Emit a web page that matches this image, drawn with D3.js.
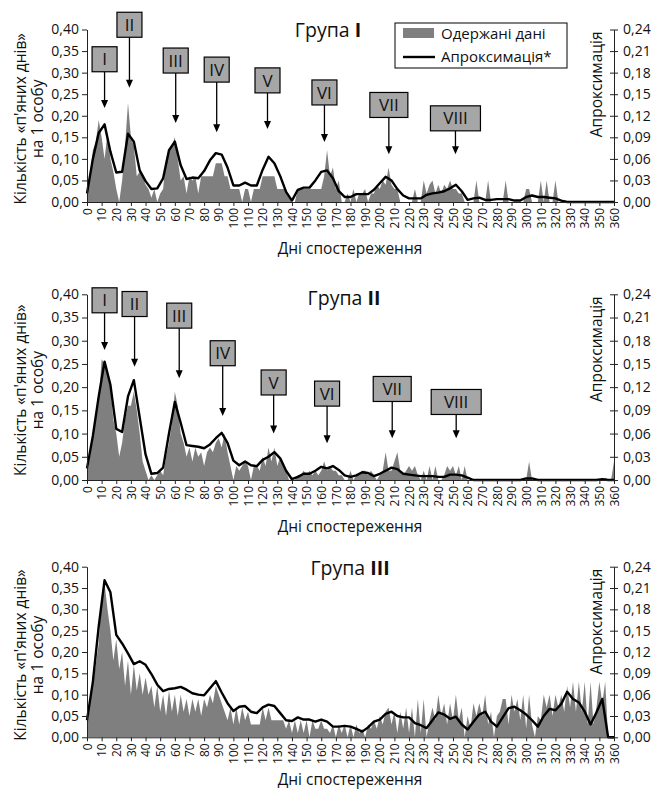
<!DOCTYPE html>
<html>
<head>
<meta charset="utf-8">
<script src="https://cdn.jsdelivr.net/npm/d3@7"></script>
<style>
  body { margin: 0; background: #fff; }
  text { font-family: "Open Sans", "Noto Sans", sans-serif; fill: #111; }
</style>
</head>
<body>
<div class="chart"></div>
<script>
// days of observation
var greyDays = d3.range(0, 361, 2);
var lineDays = d3.range(0, 361, 4);
var xTicks = d3.range(0, 361, 10);
var leftTicks = [0, 0.05, 0.10, 0.15, 0.20, 0.25, 0.30, 0.35, 0.40];
var rightTicks = [0, 0.03, 0.06, 0.09, 0.12, 0.15, 0.18, 0.21, 0.24];

// Група I: observed data (left axis), every 2 days
var grey1 = [
  0.02,0.06,0.12,0.14,0.19,0.15,0.10,0.16,0.10,0.07,
  0.03,0.00,0.05,0.13,0.23,0.15,0.13,0.06,0.07,0.06,
  0.04,0.03,0.01,0.03,0.00,0.02,0.03,0.10,0.12,0.13,
  0.15,0.10,0.05,0.06,0.02,0.06,0.05,0.06,0.02,0.06,
  0.06,0.06,0.06,0.06,0.09,0.09,0.09,0.06,0.06,0.03,
  0.03,0.03,0.03,0.00,0.03,0.03,0.00,0.03,0.03,0.03,
  0.06,0.06,0.06,0.06,0.06,0.03,0.03,0.03,0.03,0.01,
  0.00,0.00,0.03,0.03,0.03,0.03,0.03,0.03,0.03,0.03,
  0.03,0.06,0.12,0.06,0.08,0.03,0.05,0.00,0.00,0.02,
  0.00,0.03,0.00,0.02,0.02,0.03,0.00,0.02,0.02,0.04,
  0.03,0.05,0.04,0.08,0.04,0.03,0.03,0.00,0.00,0.00,
  0.00,0.00,0.03,0.00,0.00,0.05,0.02,0.04,0.05,0.02,
  0.04,0.02,0.04,0.03,0.05,0.03,0.03,0.02,0.02,0.00,
  0.00,0.00,0.00,0.05,0.00,0.00,0.00,0.05,0.00,0.00,
  0.00,0.00,0.00,0.05,0.00,0.00,0.00,0.00,0.00,0.00,
  0.03,0.03,0.00,0.00,0.00,0.05,0.00,0.05,0.00,0.00,
  0.05,0.00,0.00,0.00,0.00,0.00,0.00,0.00,0.00,0.00,
  0.00,0.00,0.00,0.00,0.00,0.00,0.00,0.00,0.00,0.00,
  0.00
];
// Група I: approximation (right axis), every 4 days
var line1 = [
  0.012,0.060,0.096,0.108,0.070,0.041,0.042,0.095,0.084,0.044,
  0.029,0.018,0.019,0.033,0.072,0.084,0.051,0.032,0.034,0.033,
  0.043,0.058,0.068,0.066,0.048,0.023,0.023,0.027,0.023,0.023,
  0.045,0.063,0.054,0.036,0.014,0.002,0.017,0.020,0.020,0.030,
  0.042,0.044,0.033,0.015,0.007,0.007,0.011,0.011,0.011,0.017,
  0.026,0.035,0.030,0.018,0.009,0.005,0.005,0.005,0.010,0.012,
  0.013,0.015,0.019,0.024,0.015,0.003,0.005,0.006,0.003,0.003,
  0.004,0.004,0.004,0.002,0.002,0.007,0.009,0.007,0.007,0.006,
  0.005,0.002,0.000,0.000,0.000,0.000,0.000,0.000,0.000,0.000,
  0.000
];

// Група II
var grey2 = [
  0.01,0.05,0.10,0.13,0.17,0.26,0.25,0.23,0.20,0.13,
  0.10,0.05,0.08,0.13,0.16,0.16,0.19,0.15,0.10,0.04,
  0.02,0.00,0.01,0.00,0.01,0.02,0.01,0.05,0.08,0.12,
  0.19,0.16,0.10,0.08,0.05,0.07,0.04,0.07,0.05,0.06,
  0.03,0.06,0.07,0.06,0.08,0.09,0.07,0.10,0.06,0.03,
  0.00,0.03,0.02,0.03,0.04,0.03,0.00,0.03,0.03,0.02,
  0.05,0.03,0.07,0.04,0.07,0.03,0.05,0.03,0.02,0.00,
  0.00,0.00,0.01,0.01,0.02,0.01,0.02,0.01,0.02,0.01,
  0.02,0.04,0.02,0.03,0.02,0.02,0.01,0.01,0.00,0.00,
  0.02,0.00,0.01,0.01,0.02,0.02,0.01,0.02,0.01,0.00,
  0.01,0.02,0.06,0.02,0.02,0.04,0.06,0.02,0.01,0.02,
  0.03,0.02,0.03,0.01,0.00,0.02,0.00,0.03,0.00,0.03,
  0.00,0.00,0.01,0.03,0.02,0.03,0.01,0.03,0.00,0.03,
  0.00,0.00,0.00,0.00,0.00,0.00,0.00,0.00,0.00,0.00,
  0.00,0.00,0.00,0.00,0.00,0.00,0.00,0.00,0.00,0.00,
  0.00,0.04,0.00,0.00,0.00,0.00,0.00,0.00,0.00,0.00,
  0.00,0.00,0.00,0.00,0.00,0.00,0.00,0.00,0.00,0.00,
  0.00,0.00,0.00,0.00,0.00,0.00,0.00,0.005,0.00,0.00,
  0.04
];
var line2 = [
  0.015,0.057,0.108,0.153,0.123,0.066,0.062,0.108,0.129,0.081,
  0.033,0.008,0.009,0.016,0.060,0.101,0.074,0.045,0.044,0.043,
  0.041,0.046,0.054,0.061,0.048,0.025,0.019,0.024,0.019,0.018,
  0.026,0.030,0.036,0.028,0.012,0.001,0.004,0.008,0.008,0.012,
  0.017,0.015,0.018,0.013,0.006,0.004,0.006,0.010,0.009,0.005,
  0.008,0.012,0.016,0.014,0.008,0.007,0.006,0.005,0.005,0.005,
  0.004,0.004,0.007,0.007,0.006,0.003,0.000,0.000,0.000,0.000,
  0.000,0.000,0.000,0.000,0.000,0.002,0.002,0.000,0.000,0.000,
  0.000,0.000,0.000,0.000,0.000,0.000,0.000,0.000,0.001,0.000,
  0.000
];

// Група III
var grey3 = [
  0.02,0.08,0.12,0.17,0.22,0.33,0.36,0.30,0.25,0.18,
  0.23,0.16,0.20,0.12,0.18,0.10,0.17,0.11,0.15,0.10,
  0.14,0.10,0.12,0.07,0.12,0.06,0.10,0.05,0.11,0.06,
  0.10,0.05,0.10,0.06,0.09,0.05,0.09,0.06,0.09,0.05,
  0.09,0.07,0.10,0.08,0.12,0.10,0.08,0.06,0.04,0.07,
  0.03,0.07,0.03,0.07,0.04,0.06,0.03,0.03,0.03,0.03,
  0.07,0.04,0.07,0.04,0.04,0.04,0.04,0.04,0.02,0.04,
  0.01,0.04,0.01,0.04,0.01,0.04,0.00,0.04,0.02,0.02,
  0.04,0.02,0.02,0.01,0.03,0.00,0.03,0.01,0.03,0.00,
  0.03,0.00,0.03,0.01,0.02,0.00,0.03,0.02,0.04,0.02,
  0.05,0.03,0.06,0.07,0.03,0.06,0.01,0.06,0.02,0.07,
  0.01,0.07,0.00,0.09,0.01,0.09,0.00,0.04,0.07,0.04,
  0.10,0.05,0.08,0.03,0.08,0.04,0.10,0.04,0.07,0.00,
  0.05,0.02,0.08,0.05,0.08,0.05,0.10,0.03,0.06,0.00,
  0.05,0.06,0.09,0.09,0.03,0.10,0.06,0.09,0.04,0.10,
  0.02,0.10,0.03,0.00,0.05,0.04,0.10,0.07,0.10,0.05,
  0.10,0.07,0.10,0.06,0.12,0.07,0.13,0.06,0.13,0.06,
  0.13,0.03,0.13,0.03,0.07,0.13,0.08,0.13,0.00,0.00,
  0.00
];
var line3 = [
  0.024,0.078,0.156,0.221,0.204,0.144,0.132,0.118,0.103,0.107,
  0.102,0.089,0.074,0.065,0.068,0.069,0.071,0.067,0.062,0.060,
  0.059,0.069,0.079,0.063,0.048,0.037,0.043,0.044,0.036,0.034,
  0.042,0.046,0.044,0.034,0.024,0.023,0.028,0.025,0.025,0.022,
  0.025,0.022,0.015,0.015,0.016,0.015,0.012,0.008,0.014,0.022,
  0.025,0.033,0.036,0.030,0.028,0.028,0.020,0.017,0.013,0.024,
  0.035,0.032,0.026,0.029,0.018,0.011,0.022,0.032,0.036,0.022,
  0.015,0.028,0.041,0.043,0.038,0.032,0.024,0.015,0.030,0.040,
  0.038,0.047,0.064,0.054,0.049,0.036,0.018,0.035,0.054,0.000,
  0.000
];

// callouts: label, day, arrow tip value and box top value (left axis)
var calloutLabels = ['I', 'II', 'III', 'IV', 'V', 'VI', 'VII', 'VIII'];
var calloutDays1 = [12, 29, 60.6, 88.6, 123.3, 162.2, 206.2, 251.7];
var calloutTip1 = [0.218, 0.265, 0.183, 0.162, 0.169, 0.139, 0.111, 0.111];
var calloutBox1 = [0.36, 0.44, 0.357, 0.336, 0.311, 0.283, 0.254, 0.223];
var calloutDays2 = [12, 32.5, 63, 92.7, 127.5, 164, 208.5, 252.2];
var calloutTip2 = [0.28, 0.244, 0.219, 0.138, 0.10, 0.079, 0.09, 0.09];
var calloutBox2 = [0.414, 0.406, 0.381, 0.30, 0.237, 0.213, 0.223, 0.195];

var panels = [
  { title: 'Група ', num: 'I', grey: grey1, line: line1, top: 29.5, bottom: 202, tx: 328, ty: 37, xt: 52,
    callouts: { days: calloutDays1, tip: calloutTip1, box: calloutBox1 }, legend: true },
  { title: 'Група ', num: 'II', grey: grey2, line: line2, top: 294.3, bottom: 480, tx: 344, ty: 305, xt: 52,
    callouts: { days: calloutDays2, tip: calloutTip2, box: calloutBox2 } },
  { title: 'Група ', num: 'III', grey: grey3, line: line3, top: 566.7, bottom: 737.3, tx: 350, ty: 575, xt: 48 }
];

var W = 657, H = 790;
var svg = d3.select('.chart').append('svg').attr('width', W).attr('height', H);

var x = d3.scaleLinear().domain([0, 360]).range([87, 614]);
var comma = function (f) { return function (d) { return d3.format(f)(d).replace('.', ','); }; };
var boxW = { VII: 38, VIII: 50 };

panels.forEach(function (p) {
  var yL = d3.scaleLinear().domain([0, 0.40]).range([p.bottom, p.top]);
  var yR = d3.scaleLinear().domain([0, 0.24]).range([p.bottom, p.top]);
  var g = svg.append('g');

  // observed data
  var area = d3.area()
    .x(function (d, i) { return x(greyDays[i]); })
    .y0(p.bottom)
    .y1(function (d) { return yL(d); });
  g.append('path').datum(p.grey).attr('d', area).attr('fill', '#7f7f7f');

  // approximation
  var line = d3.line()
    .x(function (d, i) { return x(lineDays[i]); })
    .y(function (d) { return yR(d); });
  g.append('path').datum(p.line).attr('d', line)
    .attr('fill', 'none').attr('stroke', '#000').attr('stroke-width', 2.4)
    .attr('stroke-linejoin', 'round');

  // axes
  var la = g.append('g').attr('transform', 'translate(87,0)')
    .call(d3.axisLeft(yL).tickValues(leftTicks).tickFormat(comma('.2f')).tickSize(5).tickSizeOuter(0));
  la.selectAll('text').style('font-size', '14px').attr('x', -8);

  var ra = g.append('g').attr('transform', 'translate(614,0)')
    .call(d3.axisRight(yR).tickValues(rightTicks).tickFormat(comma('.2f')).tickSize(4).tickSizeOuter(0));
  ra.selectAll('.tick line').attr('x1', -4).attr('x2', 4);
  ra.selectAll('text').style('font-size', '14px').attr('x', 9);

  var ba = g.append('g').attr('transform', 'translate(0,' + p.bottom + ')')
    .call(d3.axisBottom(x).tickValues(xTicks).tickSize(4).tickSizeOuter(0));
  ba.selectAll('text').style('font-size', '12px')
    .attr('transform', 'rotate(-90)').attr('text-anchor', 'end')
    .attr('x', -6).attr('y', 0).attr('dy', '0.35em');
  svg.selectAll('.domain, .tick line').attr('stroke', '#222');

  // axis titles
  var mid = (p.top + p.bottom) / 2 + 3;
  g.append('text').attr('transform', 'translate(21,' + mid + ') rotate(-90)')
    .attr('text-anchor', 'middle').attr('dy', '0.35em').style('font-size', '15.5px')
    .text('Кількість  «п\'яних днів»');
  g.append('text').attr('transform', 'translate(38,' + mid + ') rotate(-90)')
    .attr('text-anchor', 'middle').attr('dy', '0.35em').style('font-size', '15.5px')
    .text('на 1 особу');
  g.append('text').attr('transform', 'translate(597,' + (p.top + 2) + ') rotate(-90)')
    .attr('text-anchor', 'end').attr('dy', '0.35em').style('font-size', '15.5px')
    .text('Апроксимація');
  g.append('text').attr('x', 350).attr('y', p.bottom + p.xt)
    .attr('text-anchor', 'middle').style('font-size', '15.5px')
    .text('Дні спостереження');

  // panel title
  var t = g.append('text').attr('x', p.tx).attr('y', p.ty)
    .attr('text-anchor', 'middle').style('font-size', '19.5px');
  t.append('tspan').text(p.title);
  t.append('tspan').style('font-weight', 'bold').text(p.num);

  // callouts
  if (p.callouts) {
    calloutLabels.forEach(function (lab, i) {
      var cx = x(p.callouts.days[i]);
      var by = yL(p.callouts.box[i]);
      var ty = yL(p.callouts.tip[i]);
      var w = boxW[lab] || 25;
      g.append('line').attr('x1', cx).attr('x2', cx).attr('y1', by + 25).attr('y2', ty - 7)
        .attr('stroke', '#000').attr('stroke-width', 1.3);
      g.append('path').attr('d', 'M' + (cx - 3.5) + ',' + (ty - 8) + 'L' + (cx + 3.5) + ',' + (ty - 8) + 'L' + cx + ',' + ty + 'Z')
        .attr('fill', '#000');
      g.append('rect').attr('x', cx - w / 2).attr('y', by).attr('width', w).attr('height', 25)
        .attr('fill', '#a6a6a6').attr('stroke', '#000').attr('stroke-width', 1.2);
      g.append('text').attr('x', cx).attr('y', by + 12.5).attr('dy', '0.36em')
        .attr('text-anchor', 'middle').style('font-size', '17px').text(lab);
    });
  }

  // legend
  if (p.legend) {
    var lg = g.append('g').attr('transform', 'translate(395,23)');
    lg.append('rect').attr('width', 172).attr('height', 45)
      .attr('fill', '#fff').attr('stroke', '#000').attr('stroke-width', 1);
    lg.append('rect').attr('x', 8).attr('y', 5).attr('width', 31).attr('height', 10).attr('fill', '#7f7f7f');
    lg.append('line').attr('x1', 8).attr('x2', 40).attr('y1', 34).attr('y2', 34)
      .attr('stroke', '#000').attr('stroke-width', 2.4);
    lg.append('text').attr('x', 46).attr('y', 11).attr('dy', '0.35em').style('font-size', '15px').text('Одержані дані');
    lg.append('text').attr('x', 46).attr('y', 34).attr('dy', '0.35em').style('font-size', '15px').text('Апроксимація*');
  }
});
</script>
</body>
</html>
